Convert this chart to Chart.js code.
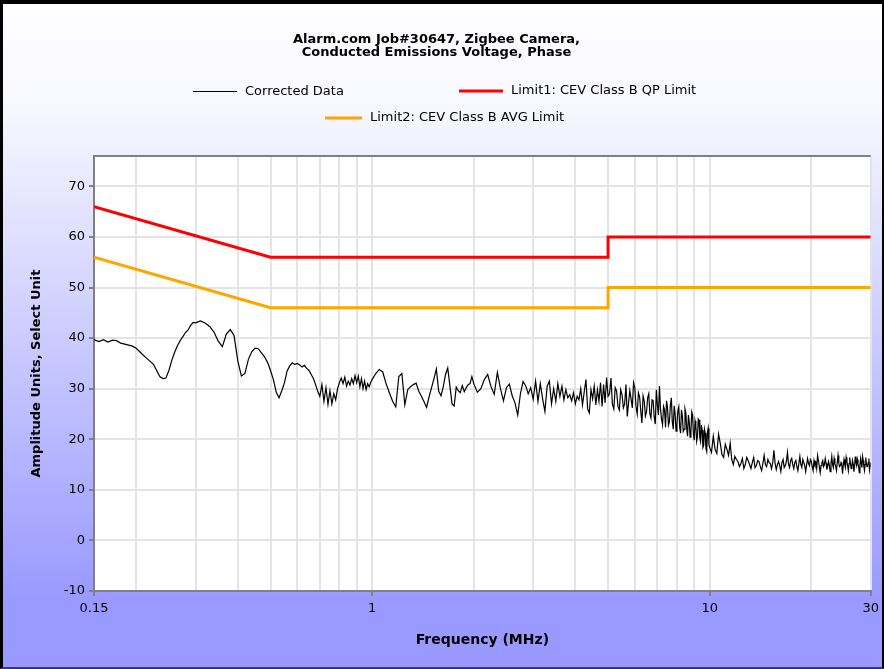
<!DOCTYPE html>
<html><head><meta charset="utf-8">
<script src="https://cdn.jsdelivr.net/npm/chart.js@4.4.1/dist/chart.umd.min.js"></script>
<style>
html,body{margin:0;padding:0;background:#fff;}
#wrap{position:relative;width:884px;height:669px;overflow:hidden;
 background:linear-gradient(to bottom,#ffffff 0px,#f7f7ff 110px,#9999ff 600px,#9999ff 669px);}
#frame{position:absolute;left:0;top:0;width:884px;height:669px;box-sizing:border-box;
 border-top:4px solid #000;border-left:3px solid #000;border-right:2px solid #000;border-bottom:2px solid #3a3a6a;pointer-events:none;}
canvas{position:absolute;left:0;top:0;}
</style></head><body>
<div id="wrap"><canvas id="c" width="884" height="669"></canvas><div id="frame"></div></div>
<script>
const titleLines = ['Alarm.com Job#30647, Zigbee Camera,', 'Conducted Emissions Voltage, Phase'];
const seriesNames = ['Corrected Data', 'Limit1: CEV Class B QP Limit', 'Limit2: CEV Class B AVG Limit'];
const xAxisTitle = 'Frequency (MHz)';
const yAxisTitle = 'Amplitude Units, Select Unit';

const freqMHz = [
 0.15,0.155,0.16,0.165,0.17,0.175,0.18,0.185,0.19,0.195,
 0.2,0.205,0.21,0.215,0.22,0.225,0.23,0.235,0.24,0.245,
 0.25,0.255,0.26,0.265,0.27,0.275,0.28,0.285,0.29,0.295,
 0.3,0.31,0.32,0.33,0.34,0.35,0.36,0.37,0.38,0.39,
 0.4,0.41,0.42,0.43,0.44,0.45,0.46,0.47,0.48,0.49,0.5,
 0.51,0.52,0.53,0.54,0.55,0.56,0.57,0.58,0.59,0.6,
 0.61,0.62,0.63,0.64,0.65,0.66,0.67,0.68,0.69,0.7,
 0.71,0.72,0.73,0.74,0.75,0.76,0.77,0.78,0.79,0.8,
 0.81,0.82,0.83,0.84,0.85,0.86,0.87,0.88,0.89,0.9,
 0.91,0.92,0.93,0.94,0.95,0.96,0.97,0.98,0.99,1.0,
 1.025,1.05,1.075,1.1,1.125,1.15,1.175,1.2,1.225,1.25,
 1.275,1.3,1.325,1.35,1.375,1.4,1.425,1.45,1.475,1.5,
 1.525,1.55,1.575,1.6,1.625,1.65,1.675,1.7,1.725,1.75,
 1.775,1.8,1.825,1.85,1.875,1.9,1.925,1.95,1.975,2.0,
 2.05,2.1,2.15,2.2,2.25,2.3,2.35,2.4,2.45,2.5,
 2.55,2.6,2.65,2.7,2.75,2.8,2.85,2.9,2.95,3.0,
 3.05,3.1,3.15,3.2,3.25,3.3,3.35,3.4,3.45,3.5,
 3.55,3.6,3.65,3.7,3.75,3.8,3.85,3.9,3.95,4.0,
 4.05,4.1,4.15,4.2,4.25,4.3,4.35,4.4,4.45,4.5,
 4.55,4.6,4.65,4.7,4.75,4.8,4.85,4.9,4.95,5.0,
 5.05,5.1,5.15,5.2,5.25,5.3,5.35,5.4,5.45,5.5,
 5.55,5.6,5.65,5.7,5.75,5.8,5.85,5.9,5.95,6.0,
 6.05,6.1,6.15,6.2,6.25,6.3,6.35,6.4,6.45,6.5,
 6.55,6.6,6.65,6.7,6.75,6.8,6.85,6.9,6.95,7.0,
 7.05,7.1,7.15,7.2,7.25,7.3,7.35,7.4,7.45,7.5,
 7.55,7.6,7.65,7.7,7.75,7.8,7.85,7.9,7.95,8.0,
 8.05,8.1,8.15,8.2,8.25,8.3,8.35,8.4,8.45,8.5,
 8.55,8.6,8.65,8.7,8.75,8.8,8.85,8.9,8.95,9.0,
 9.05,9.1,9.15,9.2,9.25,9.3,9.35,9.4,9.45,9.5,
 9.55,9.6,9.65,9.7,9.75,9.8,9.85,9.9,9.95,10.0,
 10.125,10.25,10.375,10.5,10.625,10.75,10.875,11,
 11.125,11.25,11.375,11.5,11.625,11.75,11.875,12,
 12.125,12.25,12.375,12.5,12.625,12.75,12.875,13,
 13.125,13.25,13.375,13.5,13.625,13.75,13.875,14,
 14.125,14.25,14.375,14.5,14.625,14.75,14.875,15,
 15.125,15.25,15.375,15.5,15.625,15.75,15.875,16,
 16.125,16.25,16.375,16.5,16.625,16.75,16.875,17,
 17.125,17.25,17.375,17.5,17.625,17.75,17.875,18,
 18.125,18.25,18.375,18.5,18.625,18.75,18.875,19,
 19.125,19.25,19.375,19.5,19.625,19.75,19.875,20,
 20.125,20.25,20.375,20.5,20.625,20.75,20.875,21,
 21.125,21.25,21.375,21.5,21.625,21.75,21.875,22,
 22.125,22.25,22.375,22.5,22.625,22.75,22.875,23,
 23.125,23.25,23.375,23.5,23.625,23.75,23.875,24,
 24.125,24.25,24.375,24.5,24.625,24.75,24.875,25,
 25.125,25.25,25.375,25.5,25.625,25.75,25.875,26,
 26.125,26.25,26.375,26.5,26.625,26.75,26.875,27,
 27.125,27.25,27.375,27.5,27.625,27.75,27.875,28,
 28.125,28.25,28.375,28.5,28.625,28.75,28.875,29,
 29.125,29.25,29.375,29.5,29.625,29.75,29.875,30
];

const correctedData = [
 39.7,39.3,39.7,39.2,39.6,39.5,39.0,38.8,38.6,38.4,
 38.0,37.3,36.6,36.0,35.4,34.8,33.6,32.4,32.0,32.1,
 33.6,35.6,37.2,38.5,39.5,40.3,41.1,41.6,42.5,43.1,
 43.0,43.4,43.0,42.3,41.2,39.4,38.3,40.8,41.7,40.5,
 35.5,32.5,33.0,35.8,37.3,38.0,37.9,37.1,36.3,35.2,33.6,
 31.8,29.3,28.2,29.6,31.2,33.5,34.5,35.1,34.8,35.0,
 34.7,34.3,34.6,34.0,33.6,32.8,32.0,30.8,29.5,28.5,
 30.8,27.5,30.2,26.9,29.6,27.0,29.0,27.8,30.0,31.2,
 32.1,31.0,32.3,30.5,31.5,30.7,32.0,31.0,32.6,31.2,
 32.5,30.4,32.0,30.0,31.5,29.8,31.0,30.4,31.2,31.8,
 33.0,33.8,33.3,31.0,29.2,27.5,26.4,32.4,33.0,26.8,
 29.8,30.4,30.8,31.1,29.5,28.5,27.4,26.3,28.4,30.2,
 32.0,33.9,29.5,28.6,30.4,32.8,34.1,30.5,27.0,26.6,
 30.3,29.6,29.2,30.6,29.4,30.2,30.8,31.0,32.4,31.0,
 29.3,30.0,31.8,32.8,30.4,28.9,33.2,30.0,27.6,30.2,
 30.9,28.6,27.2,24.8,29.0,31.4,30.6,29.0,30.2,27.9,
 31.5,27.5,31.0,28.0,25.5,30.5,31.5,27.0,30.0,27.5,
 31.0,28.5,30.5,27.8,29.8,28.2,28.8,27.6,29.2,27.0,
 28.5,27.8,30.0,26.8,29.4,31.8,26.0,25.2,29.8,28.0,
 30.5,26.8,29.8,27.5,31.2,26.5,30.8,27.2,32.2,28.5,
 29.0,32.1,27.0,26.0,30.2,29.5,26.5,25.8,29.8,28.8,
 26.2,27.0,30.8,24.5,27.2,29.6,28.0,26.2,31.2,30.2,
 26.5,25.0,29.2,28.4,25.6,23.2,28.6,27.5,24.6,25.4,
 28.2,29.0,25.0,24.2,27.8,27.6,24.4,23.0,29.8,26.8,
 24.8,30.5,26.0,24.0,22.8,26.5,25.8,22.4,27.6,26.2,
 22.8,23.5,26.8,28.2,23.4,22.0,26.6,25.0,21.6,23.0,
 25.6,26.4,22.4,21.2,25.8,24.6,21.6,22.0,26.0,25.2,
 22.2,20.6,24.8,23.4,20.4,21.5,25.4,24.8,21.0,19.8,
 23.6,22.6,19.6,20.5,24.0,23.8,20.2,19.5,22.8,21.8,
 18.4,18.8,22.0,21.2,18.2,17.6,21.4,22.2,19.0,18.4,
 17.4,20.6,18.0,17.2,21.0,19.2,17.0,16.4,
 19.0,18.0,16.8,19.2,16.0,15.0,16.6,16.0,
 15.6,14.6,15.2,16.2,14.2,15.0,16.4,15.8,
 15.0,14.2,15.4,16.4,14.4,14.8,15.8,15.6,
 14.6,13.8,15.2,16.8,15.0,14.6,16.0,15.4,
 15.2,14.2,15.4,17.8,15.2,14.0,15.0,15.6,
 14.8,13.6,15.4,16.0,14.4,14.8,15.6,17.4,
 15.0,14.4,15.8,16.2,15.0,14.2,15.4,15.8,
 14.6,13.8,15.2,16.6,15.0,14.4,16.0,15.4,
 14.8,13.6,15.0,16.2,15.2,14.8,16.0,15.6,
 14.6,13.8,15.8,15.0,15.4,14.2,16.8,15.8,
 14.6,13.4,14.8,15.4,15.8,14.6,15.0,16.2,
 15.2,14.0,14.8,15.6,14.8,13.6,15.2,16.6,
 15.0,14.4,16.2,15.2,14.6,13.8,15.4,16.8,
 15.2,14.6,14.8,15.4,15.0,13.2,14.8,16.0,
 15.0,14.4,16.4,15.6,14.8,13.8,15.2,16.4,
 15.2,14.2,14.8,15.8,15.0,13.6,14.8,16.6,
 15.4,14.8,16.0,15.2,14.6,13.4,15.0,16.2,
 15.2,14.4,16.6,15.8,14.6,13.8,15.0,16.4,
 15.2,14.6,14.8,15.4,16.2,14.0,14.8,15.4
];

const limitFreq = [0.15, 0.5, 5, 5, 30];
const qpLimit   = [66, 56, 56, 60, 60];
const avgLimit  = [56, 46, 46, 50, 50];

const xGridValues = [0.15,0.2,0.3,0.4,0.5,0.6,0.7,0.8,0.9,1,2,3,4,5,6,7,8,9,10,20,30];
const xTickLabels = [0.15, 1, 10, 30];
const yTickValues = [-10,0,10,20,30,40,50,60,70];

const legendLayout = [
  {x:193, y:91.5, w:44, lw:1},
  {x:459, y:91, w:44, lw:3},
  {x:325, y:118, w:37, lw:3}
];

const plotPlugin = {
  id: 'plotDeco',
  beforeDraw(chart) {
    const {ctx, chartArea: a} = chart;
    ctx.save();
    ctx.fillStyle = '#ffffff';
    ctx.fillRect(a.left, a.top, a.right - a.left, a.bottom - a.top);
    ctx.restore();
  },
  afterDraw(chart) {
    const {ctx, chartArea: a} = chart;
    ctx.save();
    ctx.strokeStyle = '#808080';
    ctx.lineWidth = 2;
    ctx.beginPath();
    ctx.moveTo(a.left, a.top);
    ctx.lineTo(a.right, a.top);
    ctx.stroke();
    ctx.font = '13px "DejaVu Sans", Verdana, sans-serif';
    ctx.textBaseline = 'middle';
    ctx.fillStyle = '#000';
    chart.data.datasets.forEach((ds, i) => {
      const L = legendLayout[i];
      ctx.strokeStyle = ds.borderColor;
      ctx.lineWidth = L.lw;
      ctx.beginPath();
      ctx.moveTo(L.x, L.y);
      ctx.lineTo(L.x + L.w, L.y);
      ctx.stroke();
      ctx.fillText(ds.label, L.x + L.w + 8, Math.round(L.y));
    });
    ctx.restore();
  }
};

const tickFont = {family: '"DejaVu Sans", Verdana, sans-serif', size: 13};
const boldFont = {family: '"DejaVu Sans", Verdana, sans-serif', size: 13, weight: 'bold'};

new Chart(document.getElementById('c'), {
  type: 'scatter',
  data: {
    datasets: [
      {label: seriesNames[0], data: freqMHz.map((f, i) => ({x: f, y: correctedData[i]})),
       borderColor: '#000000', borderWidth: 1.2, showLine: true, pointRadius: 0, fill: false},
      {label: seriesNames[1], data: limitFreq.map((f, i) => ({x: f, y: qpLimit[i]})),
       borderColor: '#ff0000', borderWidth: 3, showLine: true, pointRadius: 0, fill: false},
      {label: seriesNames[2], data: limitFreq.map((f, i) => ({x: f, y: avgLimit[i]})),
       borderColor: '#ffa500', borderWidth: 3, showLine: true, pointRadius: 0, fill: false}
    ]
  },
  options: {
    responsive: false,
    animation: false,
    layout: {padding: {left: 0, right: 11, top: 0, bottom: 0}},
    plugins: {
      legend: {display: false},
      tooltip: {enabled: false},
      title: {display: true, text: titleLines, color: '#000',
        font: {family: '"DejaVu Sans", Verdana, sans-serif', size: 13, weight: 'bold', lineHeight: 1.0},
        padding: {top: 33.5, bottom: 96.5}}
    },
    scales: {
      x: {
        type: 'logarithmic', min: 0.15, max: 30,
        afterBuildTicks: s => { s.ticks = xGridValues.map(v => ({value: v})); },
        afterFit: s => { s.height = 78; },
        ticks: {autoSkip: false, maxRotation: 0, minRotation: 0, padding: 5, color: '#000', font: tickFont,
          callback: v => xTickLabels.includes(v) ? String(v) : ''},
        grid: {color: '#e4e4e4', lineWidth: 2, tickLength: 5,
          tickColor: c => (c.tick && xTickLabels.includes(c.tick.value)) ? '#808080' : 'rgba(0,0,0,0)'},
        border: {color: '#808080', width: 2},
        title: {display: true, text: xAxisTitle, color: '#000', font: {...boldFont, size: 14}, padding: {top: 0, bottom: 20}}
      },
      y: {
        min: -10, max: 76,
        afterBuildTicks: s => { s.ticks = yTickValues.map(v => ({value: v})); },
        afterFit: s => { s.width = 94; },
        ticks: {padding: 4, color: '#000', font: tickFont},
        grid: {color: '#e4e4e4', lineWidth: 2, tickLength: 5, tickColor: '#808080'},
        border: {color: '#808080', width: 2},
        title: {display: true, text: yAxisTitle, color: '#000', font: boldFont, padding: {top: 29, bottom: 0}}
      }
    }
  },
  plugins: [plotPlugin]
});
</script></body></html>
